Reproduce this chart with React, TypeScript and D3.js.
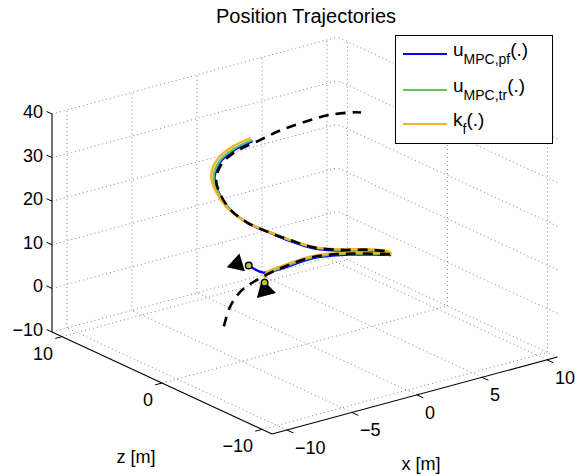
import React, { useEffect, useRef } from 'react';
import * as d3 from 'd3';

// axis limits and ticks
const xLim = [-11.15, 10.8];
const zLim = [-11, 11];
const vLim = [-10, 40];
const xTicks = [-10, -5, 0, 5, 10];
const zTicks = [-10, 0, 10];
const vTicks = [-10, 0, 10, 20, 30, 40];

// reference path (dashed)
const refX = [-2.8, -2.13, -1.24, -0.23, 1.8, 3.45, 4.64, 4.9, 4.39, 3.89, 3.26, 0.66, -1.38, -3.0, -4.1, -4.86, -5.46, -5.59, -5.35, -4.49, -3.12, -1.6, 0.42, 1.75, 2.95, 4.03, 4.79, 4.91];
const refZ = [4.67, 4.97, 5.22, 5.3, 4.87, 3.75, 1.92, -1.03, -2.47, -3.25, -3.93, -5.21, -5.19, -4.56, -3.7, -2.71, -1.21, 0.32, 1.62, 3.25, 4.48, 5.14, 5.25, 4.89, 4.19, 3.05, 1.48, 0.97];
const refV = [-8.7, -5.3, -3.0, -1.6, 0.85, 3.2, 4.9, 7.8, 9.7, 10.9, 12.6, 16.6, 18.2, 19.4, 21.0, 22.2, 23.4, 24.8, 26.5, 27.8, 29.0, 29.8, 30.8, 32.4, 34.0, 36.0, 37.7, 38.1];

// u_MPC,pf
const pfX = [0.52, 0.43, 1.8, 3.45, 4.64, 4.9, 4.39, 3.89, 3.26, 0.66, -1.38, -3.0, -4.1, -4.86, -5.56, -5.69, -5.44, -4.57, -3.18, -1.62, -0.04];
const pfZ = [6.5, 4.9, 4.87, 3.75, 1.92, -1.03, -2.47, -3.25, -3.93, -5.21, -5.19, -4.56, -3.7, -2.71, -1.23, 0.33, 1.65, 3.31, 4.57, 5.23, 5.39];
const pfV = [0.63, 0.79, 0.65, 3.0, 4.7, 7.6, 9.5, 10.7, 12.4, 16.4, 18.0, 19.2, 20.8, 22.2, 23.6, 25.1, 26.8, 28.1, 29.3, 30.1, 30.8];

// u_MPC,tr
const trX = [0.97, 0.74, 1.8, 3.45, 4.64, 4.9, 4.39, 3.89, 3.26, 0.66, -1.38, -3.0, -4.1, -4.9, -5.61, -5.74, -5.49, -4.61, -3.2, -1.64, -0.03];
const trZ = [5.5, 5.0, 4.87, 3.75, 1.92, -1.03, -2.47, -3.25, -3.93, -5.21, -5.19, -4.56, -3.7, -2.73, -1.24, 0.33, 1.67, 3.34, 4.61, 5.28, 5.44];
const trV = [-2.6, 0.0, 0.85, 3.2, 4.9, 7.8, 9.7, 10.9, 12.6, 16.6, 18.2, 19.4, 21.0, 22.4, 23.8, 25.3, 27.0, 28.3, 29.5, 30.3, 31.0];

// k_f
const kfX = [0.97, 0.8, 1.85, 3.5, 4.7, 4.95, 4.42, 3.9, 3.26, 0.66, -1.4, -3.05, -4.18, -5.0, -5.75, -5.89, -5.63, -4.73, -3.28, -1.67, -0.03];
const kfZ = [5.5, 5.1, 4.95, 3.8, 1.95, -1.05, -2.5, -3.3, -3.98, -5.28, -5.27, -4.66, -3.8, -2.8, -1.28, 0.34, 1.71, 3.43, 4.74, 5.43, 5.59];
const kfV = [-2.6, 0.2, 1.1, 3.4, 5.1, 8.0, 9.9, 11.1, 12.8, 16.8, 18.4, 19.6, 21.2, 22.6, 24.1, 25.6, 27.3, 28.6, 29.8, 30.6, 31.3];

// start markers (cones + circles)
const coneX = [-0.38, 1.0];
const coneZ = [6.5, 5.5];
const coneV = [1.72, -4.3];
const coneRot = [-107, -15];
const startX = [0.52, 0.97];
const startZ = [6.5, 5.5];
const startV = [0.63, -2.6];

const legendMain = ['u', 'u', 'k'];
const legendSub = ['MPC,pf', 'MPC,tr', 'f'];
const legendTail = ['(.)', '(.)', '(.)'];
const legendColors = ['#0000ff', '#5cc85c', '#f5b32b'];

const W = 576;
const H = 475;
const FONT = '"Liberation Sans", Arial, Helvetica, sans-serif';

const drawChart = (node: SVGSVGElement) => {
  const svg = d3.select(node);
  svg.selectAll('*').remove();

  // box: front-bottom corner and edge vectors
  const origin = [272, 434];
  const xEdge = [285.4, -77];
  const zEdge = [-220, -102];
  const vEdge = [0, -218];

  const sx = d3.scaleLinear().domain(xLim).range([0, 1]);
  const sz = d3.scaleLinear().domain(zLim).range([0, 1]);
  const sv = d3.scaleLinear().domain(vLim).range([0, 1]);
  const proj = (x: number, z: number, v: number): [number, number] => [
    origin[0] + sx(x) * xEdge[0] + sz(z) * zEdge[0],
    origin[1] + sx(x) * xEdge[1] + sz(z) * zEdge[1] + sv(v) * vEdge[1],
  ];
  const fmt = d3.format('d');

  const [x0, x1] = xLim;
  const [z0, z1] = zLim;
  const [v0, v1] = vLim;

  // grid
  const grid: [number, number, number][][] = [];
  xTicks.forEach(t => {
    grid.push([[t, z0, v0], [t, z1, v0]]);
    grid.push([[t, z1, v0], [t, z1, v1]]);
  });
  zTicks.forEach(t => {
    grid.push([[x0, t, v0], [x1, t, v0]]);
    grid.push([[x1, t, v0], [x1, t, v1]]);
  });
  vTicks.forEach(t => {
    grid.push([[x0, z1, t], [x1, z1, t]]);
    grid.push([[x1, z0, t], [x1, z1, t]]);
  });
  const seg = d3.line<[number, number, number]>()
    .x(d => proj(d[0], d[1], d[2])[0])
    .y(d => proj(d[0], d[1], d[2])[1]);
  svg.append('g')
    .selectAll('path')
    .data(grid)
    .enter()
    .append('path')
    .attr('d', d => seg(d))
    .attr('fill', 'none')
    .attr('stroke', '#666')
    .attr('stroke-width', 0.8)
    .attr('stroke-dasharray', '1 3');

  // axis lines
  const axes: [number, number, number][][] = [
    [[x0, z0, v0], [x1, z0, v0]],
    [[x0, z0, v0], [x0, z1, v0]],
    [[x0, z1, v0], [x0, z1, v1]],
  ];
  svg.append('g')
    .selectAll('path')
    .data(axes)
    .enter()
    .append('path')
    .attr('d', d => seg(d))
    .attr('fill', 'none')
    .attr('stroke', '#000')
    .attr('stroke-width', 1.1);

  const norm = (v: number[], len: number) => {
    const l = Math.hypot(v[0], v[1]);
    return [v[0] / l * len, v[1] / l * len];
  };
  const xTickDir = norm([-zEdge[0], -zEdge[1]], 7);
  const zTickDir = norm([-xEdge[0], -xEdge[1]], 7);
  const vTickDir = norm([zEdge[0], zEdge[1]], 6);

  const tickG = svg.append('g')
    .attr('font-family', FONT)
    .attr('font-size', 18)
    .attr('fill', '#000');

  xTicks.forEach(t => {
    const p = proj(t, z0, v0);
    tickG.append('line')
      .attr('x1', p[0]).attr('y1', p[1])
      .attr('x2', p[0] + xTickDir[0]).attr('y2', p[1] + xTickDir[1])
      .attr('stroke', '#000').attr('stroke-width', 1);
    tickG.append('text')
      .attr('x', p[0] + 8)
      .attr('y', p[1] + 24)
      .attr('text-anchor', 'start')
      .text(fmt(t));
  });
  zTicks.forEach(t => {
    const p = proj(x0, t, v0);
    tickG.append('line')
      .attr('x1', p[0]).attr('y1', p[1])
      .attr('x2', p[0] + zTickDir[0]).attr('y2', p[1] + zTickDir[1])
      .attr('stroke', '#000').attr('stroke-width', 1);
    tickG.append('text')
      .attr('x', p[0] - 9)
      .attr('y', p[1] + 23)
      .attr('text-anchor', 'end')
      .text(fmt(t));
  });
  vTicks.forEach(t => {
    const p = proj(x0, z1, t);
    tickG.append('line')
      .attr('x1', p[0]).attr('y1', p[1])
      .attr('x2', p[0] + vTickDir[0]).attr('y2', p[1] + vTickDir[1])
      .attr('stroke', '#000').attr('stroke-width', 1);
    tickG.append('text')
      .attr('x', 43)
      .attr('y', p[1] + 4)
      .attr('text-anchor', 'end')
      .text(fmt(t));
  });

  // trajectories
  const curve = d3.line<[number, number]>()
    .x(d => d[0])
    .y(d => d[1])
    .curve(d3.curveCatmullRom.alpha(0.5));
  const pts = (xs: number[], zs: number[], vs: number[]) =>
    xs.map((x, i) => proj(x, zs[i], vs[i]));

  const series = [
    { p: pts(pfX, pfZ, pfV), color: legendColors[0] },
    { p: pts(trX, trZ, trV), color: legendColors[1] },
    { p: pts(kfX, kfZ, kfV), color: legendColors[2] },
  ];
  series.forEach(s => {
    svg.append('path')
      .attr('d', curve(s.p))
      .attr('fill', 'none')
      .attr('stroke', s.color)
      .attr('stroke-width', 2.4);
  });

  svg.append('path')
    .attr('d', curve(pts(refX, refZ, refV)))
    .attr('fill', 'none')
    .attr('stroke', '#000')
    .attr('stroke-width', 2.6)
    .attr('stroke-dasharray', '10 7');

  // cones at start
  const tri = d3.symbol().type(d3.symbolTriangle);
  coneX.forEach((x, i) => {
    const p = proj(x, coneZ[i], coneV[i]);
    svg.append('path')
      .attr('d', tri.size(i === 0 ? 150 : 170)())
      .attr('transform', `translate(${p[0]},${p[1]}) rotate(${coneRot[i]})`)
      .attr('fill', '#000');
  });
  startX.forEach((x, i) => {
    const p = proj(x, startZ[i], startV[i]);
    svg.append('circle')
      .attr('cx', p[0]).attr('cy', p[1]).attr('r', 3.3)
      .attr('fill', '#b8c43c')
      .attr('stroke', '#000')
      .attr('stroke-width', 1.4);
  });

  // axis labels & title
  svg.append('text')
    .attr('x', 136).attr('y', 463)
    .attr('text-anchor', 'middle')
    .attr('font-family', FONT).attr('font-size', 18)
    .text('z [m]');
  svg.append('text')
    .attr('x', 421).attr('y', 470)
    .attr('text-anchor', 'middle')
    .attr('font-family', FONT).attr('font-size', 18)
    .text('x [m]');
  svg.append('text')
    .attr('x', 306).attr('y', 22.5)
    .attr('text-anchor', 'middle')
    .attr('font-family', FONT).attr('font-size', 20)
    .text('Position Trajectories');

  // legend
  const lg = svg.append('g');
  lg.append('rect')
    .attr('x', 395.5).attr('y', 35.5)
    .attr('width', 157).attr('height', 108)
    .attr('fill', '#fff')
    .attr('stroke', '#000')
    .attr('stroke-width', 1);
  const rowY = [54, 90, 124];
  legendMain.forEach((m, i) => {
    lg.append('line')
      .attr('x1', 403).attr('x2', 447)
      .attr('y1', rowY[i]).attr('y2', rowY[i])
      .attr('stroke', legendColors[i])
      .attr('stroke-width', 2);
    const t = lg.append('text')
      .attr('x', 453).attr('y', rowY[i] + 2)
      .attr('font-family', FONT).attr('font-size', 19);
    t.append('tspan').text(m);
    t.append('tspan').attr('font-size', 14).attr('dy', 8).text(legendSub[i]);
    t.append('tspan').attr('dy', -8).text(legendTail[i]);
  });
};

const App = () => {
  const ref = useRef<SVGSVGElement>(null);
  useEffect(() => {
    if (ref.current) drawChart(ref.current);
  }, []);
  return (
    <svg
      ref={ref}
      width={W}
      height={H}
      style={{ position: 'absolute', left: 0, top: 0, background: '#fff' }}
    />
  );
};

export default App;
